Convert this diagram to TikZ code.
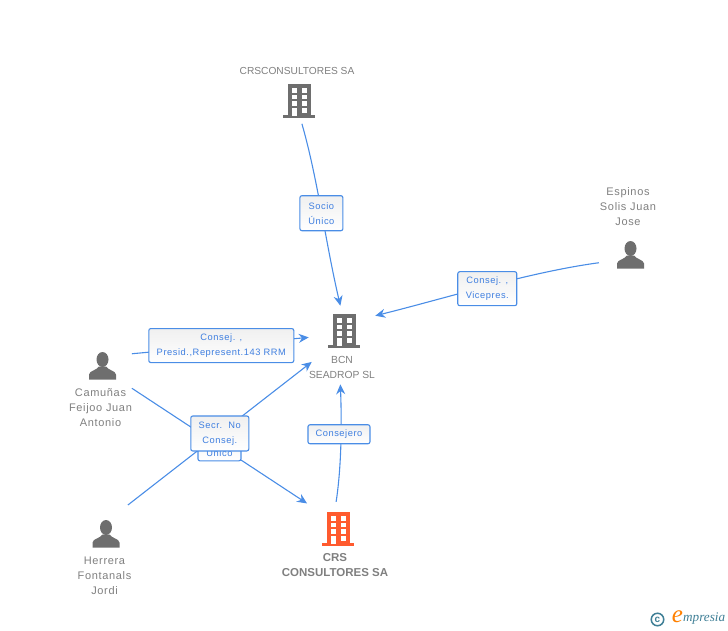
\documentclass[tikz,border=0pt]{standalone}
\usepackage{fontspec}
\setmainfont{Liberation Sans}
\newfontfamily\spacedfont[LetterSpace=6]{Liberation Sans}
\newfontfamily\logofont{Liberation Serif}
\usetikzlibrary{arrows.meta}
\definecolor{linkblue}{HTML}{4A8DE6}
\definecolor{textblue}{HTML}{3F7FE0}
\definecolor{icongray}{HTML}{6E6E6E}
\definecolor{namegray}{HTML}{7F7F7F}
\definecolor{crsorange}{HTML}{FF5A2E}
\definecolor{logoteal}{HTML}{3F7F96}
\tikzset{
  hub/.style={circle, inner sep=0pt, outer sep=0pt, minimum size=#1},
  link/.style={-{Stealth[length=10pt,width=9pt]}, line width=1.1pt, color=linkblue},
  tag/.style={
    rectangle, rounded corners=2pt, draw=linkblue, line width=1.1pt,
    top color=black!6, bottom color=white, text=textblue, align=center,
    inner sep=0pt, font=\spacedfont\fontsize{9.3}{15}\selectfont
  },
  nametext/.style={text=namegray, align=center, inner sep=0pt, font=\spacedfont\fontsize{11}{15}\selectfont},
  building/.pic={
    \fill[pic actions] (0,0) rectangle (23,32);
    \fill[pic actions] (-5,31) rectangle (27,34);
    \foreach \wy in {4,10.5,17} {
      \fill[white] (4,\wy) rectangle (9,\wy+4.5);
      \fill[white] (13.5,\wy) rectangle (19,\wy+4.5);
    }
    \fill[white] (13.5,24) rectangle (19,28.5);
    \fill[white] (4,24) rectangle (9,32);
  },
  person/.pic={
    \fill[pic actions] (0,0) ellipse (6 and 7.5);
    \fill[pic actions] (-13.5,20) -- (-13.5,15) .. controls (-13,11) and (-6,11) .. (-3.5,7)
      -- (3.5,7) .. controls (6,11) and (13,11) .. (13.5,15) -- (13.5,20) -- cycle;
  }
}
\begin{document}
\begin{tikzpicture}[x=1pt,y=-1pt]
    \useasboundingbox (0,0) rectangle (728,630);

    % Hubs the connectors start and end on
    \node[hub=80pt] (bcn) at (348,345) {};
    \node[hub=48pt] (crsc) at (299,100) {};
    \node[hub=64pt] (espinos) at (630,255) {};
    \node[hub=69pt] (camunas) at (102,371) {};
    \node[hub=71pt] (herrera) at (106,533) {};
    \node[hub=62pt] (crs) at (323,530) {};

    % Icons
    \pic[fill=icongray] at (288,84) {building};
    \pic[fill=icongray] at (333,314) {building};
    \pic[fill=crsorange] at (327,512) {building};
    \pic[fill=icongray] at (630.5,248.5) {person};
    \pic[fill=icongray] at (102.5,359.5) {person};
    \pic[fill=icongray] at (106,527.5) {person};

    % Names
    \node[nametext, font=\fontsize{10.2}{15}\selectfont] (crscName) at (297,70.5) {CRSCONSULTORES SA};
    \node[nametext, font=\fontsize{10.3}{15}\selectfont] (bcnName) at (342,367.5) {BCN\\SEADROP SL};
    \node[nametext] (espinosName) at (628,206.5) {Espinos\\Solis Juan\\Jose};
    \node[nametext] (camunasName) at (100.5,407.5) {Camuñas\\Feijoo Juan\\Antonio};
    \node[nametext] (herreraName) at (104.5,575.5) {Herrera\\Fontanals\\Jordi};
    \node[nametext, font=\bfseries\fontsize{11.5}{15}\selectfont] (crsName) at (335,565) {CRS\\CONSULTORES SA};

    % Connectors with their labels
    \draw[link] (crsc.277) .. controls (318,180) and (325,240) .. node[pos=.5, yshift=-2pt, tag, minimum width=43pt, minimum height=35pt] (tagSocio) {Socio\\Único} (bcn.101);
    \draw[link] (espinos.194) .. controls (530,272) and (450,297) .. node[pos=.5, xshift=-2pt, yshift=-3pt, tag, minimum width=59pt, minimum height=34pt] (tagVice) {Consej. ,\\Vicepres.} (bcn.47);
    \draw[link] (camunas.30) -- node[pos=.5, xshift=1pt, tag, minimum width=145pt, minimum height=34pt] (tagPresid) {Consej. ,\\Presid.,Represent.143 RRM} (bcn.169);
    \draw[link] (crs.65) .. controls (341,470) and (342,430) .. node[pos=.6, xshift=-2pt, yshift=2pt, tag, minimum width=62pt, minimum height=19pt] (tagConsejero) {Consejero} (bcn.259);
    \draw[link] (camunas.330) -- node[pos=.5, tag, minimum width=43pt, minimum height=30pt] (tagUnico) {\phantom{Socio}\\Único} (crs.121);
    \draw[link] (herrera.52) -- node[pos=.5, tag, minimum width=58pt, minimum height=35pt] (tagSecr) {Secr.\ \ No\\Consej.} (bcn.205);

    % Logo
    \node[hub=12.5pt, draw=logoteal, line width=1.5pt] (logoRing) at (657.5,619.5) {};
    \node[text=logoteal, inner sep=0pt, font=\bfseries\fontsize{10}{10}\selectfont] (logoC) at (logoRing) {c};
    \node[text=orange, inner sep=0pt, font=\logofont\itshape\fontsize{25}{25}\selectfont] (logoE) at (677.5,616.5) {e};
    \node[text=logoteal, inner sep=0pt, anchor=west, font=\logofont\itshape\fontsize{13.2}{13}\selectfont] (logoText) at (683,619) {mpresia};
\end{tikzpicture}
\end{document}
